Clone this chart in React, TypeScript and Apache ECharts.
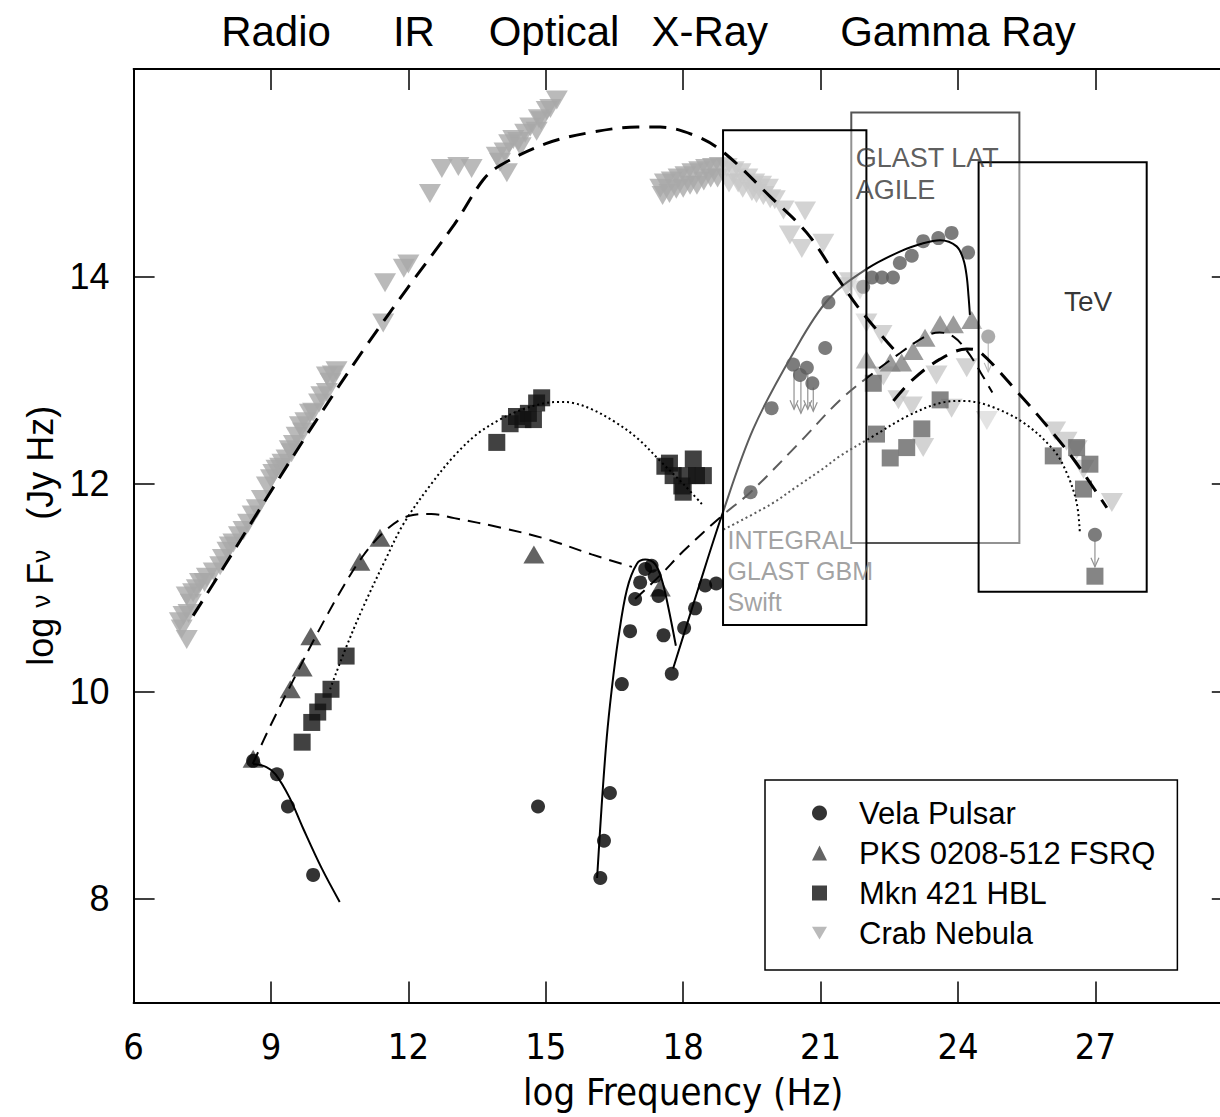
import { useEffect, useRef } from "react";
import * as echarts from "echarts";

const FONT = "'Liberation Sans', Arial, Helvetica, sans-serif";
const NARROW = "'Liberation Sans Narrow', 'DejaVu Sans Condensed', 'Liberation Sans', Arial, sans-serif";

// axes
const xRange = [6, 30];
const yRange = [7, 16];
const xTickValues = [6, 9, 12, 15, 18, 21, 24, 27];
const yTickValues = [8, 10, 12, 14];

// band labels along the top
const bandNames = ["Radio", "IR", "Optical", "X-Ray", "Gamma Ray"];
const bandCenters = [9.11, 12.12, 15.18, 18.58, 24.0];

const legendNames = ["Vela Pulsar", "PKS 0208-512 FSRQ", "Mkn 421 HBL", "Crab Nebula"];

// ---- data points [log nu, log nuFnu] ----
const velaPoints = [
  [8.61, 9.33], [9.13, 9.2], [9.37, 8.89], [9.92, 8.23], [14.83, 8.89],
  [16.19, 8.2], [16.27, 8.56], [16.4, 9.02], [16.66, 10.07], [16.84, 10.58], [16.95, 10.89],
  [17.06, 11.05], [17.17, 11.18], [17.31, 11.21], [17.38, 11.11], [17.46, 10.92], [17.57, 10.54],
  [17.75, 10.17], [18.02, 10.61], [18.26, 10.8], [18.48, 11.02], [18.72, 11.04],
  [19.47, 11.92], [19.93, 12.73], [20.4, 13.15], [20.55, 13.05], [20.7, 13.12], [20.82, 12.97],
  [21.1, 13.31], [21.17, 13.75], [21.93, 13.9], [22.12, 13.99], [22.34, 13.99], [22.58, 13.99],
  [22.73, 14.13], [22.99, 14.2], [23.24, 14.34], [23.57, 14.37], [23.86, 14.42], [24.22, 14.23],
  [24.66, 13.42], [26.99, 11.51],
];
// upper limits [log nu, from, to]
const velaUpperLimits = [
  [20.42, 13.1, 12.72], [20.57, 13.0, 12.68], [20.72, 13.07, 12.72], [20.84, 12.93, 12.7],
  [24.66, 13.36, 13.08], [26.99, 11.45, 11.2],
];

const pksPoints = [
  [8.61, 9.35], [9.42, 10.02], [9.68, 10.23], [9.87, 10.53], [10.94, 11.25], [11.38, 11.48],
  [14.74, 11.32], [17.5, 11.0],
  [22.0, 13.2], [22.52, 13.17], [22.77, 13.17], [23.02, 13.28], [23.28, 13.41], [23.61, 13.54],
  [23.9, 13.54], [24.3, 13.58],
];

const mknPoints = [
  [9.68, 9.51], [9.89, 9.7], [10.02, 9.8], [10.14, 9.9], [10.31, 10.02], [10.64, 10.34],
  [13.93, 12.4], [14.22, 12.58], [14.36, 12.65], [14.5, 12.62], [14.62, 12.68], [14.73, 12.62],
  [14.8, 12.78], [14.91, 12.83],
  [17.6, 12.17], [17.7, 12.2], [17.78, 12.08], [17.97, 11.98], [18.0, 11.92], [18.08, 12.08],
  [18.22, 12.24], [18.29, 12.08], [18.44, 12.08],
  [22.15, 12.97], [22.22, 12.48], [22.52, 12.25], [22.88, 12.35], [23.21, 12.53], [23.61, 12.81],
  [26.08, 12.27], [26.59, 12.35], [26.74, 11.95], [26.88, 12.19], [26.99, 11.11],
];

const crabRadioPoints = [
  [7.01, 10.67], [7.05, 10.6], [7.09, 10.73], [7.16, 10.5], [7.16, 10.92], [7.2, 10.75],
  [7.25, 10.85], [7.3, 10.95], [7.38, 10.99], [7.45, 11.05], [7.55, 11.05], [7.6, 11.1],
  [7.75, 11.15], [7.89, 11.21], [7.95, 11.28], [8.05, 11.35], [8.1, 11.4], [8.18, 11.43],
  [8.3, 11.5], [8.4, 11.55], [8.5, 11.62], [8.6, 11.7], [8.69, 11.76], [8.8, 11.85],
  [8.91, 11.98], [9.0, 12.05], [9.05, 12.1], [9.12, 12.14], [9.2, 12.16], [9.25, 12.2],
  [9.34, 12.24], [9.41, 12.33], [9.45, 12.3], [9.5, 12.38], [9.56, 12.46], [9.63, 12.56],
  [9.7, 12.5], [9.75, 12.6], [9.85, 12.68], [9.92, 12.69], [10.05, 12.78], [10.1, 12.85],
  [10.22, 12.88], [10.22, 13.04], [10.3, 12.98], [10.35, 13.05], [10.43, 13.09],
  [11.45, 13.55], [11.49, 13.94], [11.9, 14.08], [12.0, 14.12],
  [12.47, 14.8], [12.73, 15.04], [13.09, 15.06], [13.38, 15.04], [13.93, 15.16], [14.0, 15.1],
  [14.1, 15.2], [14.15, 15.0], [14.2, 15.28], [14.29, 15.32], [14.4, 15.3], [14.45, 15.25],
  [14.55, 15.38], [14.66, 15.44], [14.8, 15.4], [14.85, 15.52], [14.9, 15.5], [15.02, 15.6],
  [15.1, 15.62], [15.24, 15.7],
];

const crabXrayPoints = [
  [17.5, 14.85], [17.55, 14.78], [17.6, 14.9], [17.7, 14.8], [17.75, 14.92], [17.85, 14.84],
  [17.9, 14.95], [18.0, 14.85], [18.05, 14.97], [18.15, 14.88], [18.2, 15.0], [18.3, 14.88],
  [18.35, 15.02], [18.45, 14.92], [18.5, 15.04], [18.6, 14.95], [18.65, 15.05], [18.75, 14.95],
  [18.8, 15.06], [18.95, 15.05], [19.0, 14.9], [19.1, 15.02], [19.2, 14.9], [19.25, 15.0],
  [19.3, 14.85], [19.4, 14.95], [19.5, 14.82], [19.55, 14.9], [19.6, 14.8], [19.7, 14.88],
  [19.75, 14.78], [19.85, 14.85], [19.9, 14.75], [20.0, 14.74],
];

const crabGammaPoints = [
  [20.19, 14.64], [20.33, 14.4], [20.59, 14.27], [20.66, 14.63], [21.06, 14.32], [21.57, 13.9],
  [21.64, 13.95], [21.86, 13.87], [22.0, 13.55], [22.33, 13.44], [22.37, 13.04], [22.7, 12.81],
  [22.99, 12.75], [23.24, 12.35], [23.53, 13.05], [23.86, 12.73], [24.19, 13.12], [24.63, 12.61],
  [26.12, 12.51], [26.37, 12.41], [26.59, 12.33], [26.74, 12.14], [27.36, 11.82],
];

// ---- model curves ----
const velaRadioModel = [[8.61, 9.3], [8.9, 9.27], [9.1, 9.2], [9.4, 8.98], [9.7, 8.68], [10.1, 8.3], [10.5, 7.97]];
const velaXrayModel = [
  [16.12, 8.2], [16.22, 8.9], [16.33, 9.55], [16.44, 10.02], [16.58, 10.5], [16.77, 10.98],
  [16.99, 11.23], [17.17, 11.27], [17.38, 11.23], [17.53, 11.08], [17.67, 10.82], [17.84, 10.44],
];
const velaGammaModel = [
  [17.78, 10.22], [18.3, 10.95], [18.84, 11.69], [19.53, 12.53], [20.4, 13.26], [21.17, 13.78],
  [22.0, 14.07], [22.73, 14.24], [23.24, 14.32], [23.61, 14.35], [23.97, 14.29], [24.12, 14.16],
  [24.19, 14.0], [24.23, 13.81], [24.26, 13.63],
];
const pksSyncModel = [
  [8.6, 9.3], [9.0, 9.68], [9.5, 10.12], [10.0, 10.55], [10.5, 10.95], [11.0, 11.3], [11.5, 11.55],
  [12.0, 11.69], [12.5, 11.71], [13.0, 11.67], [14.0, 11.58], [15.0, 11.47], [16.0, 11.32], [16.88, 11.2],
];
const pksIcModel = [
  [16.95, 10.89], [17.5, 11.12], [18.0, 11.35], [18.84, 11.69], [19.47, 11.92], [20.5, 12.38],
  [21.43, 12.81], [22.15, 13.07], [22.73, 13.26], [23.32, 13.43], [23.6, 13.46], [23.9, 13.42],
  [24.2, 13.28], [24.5, 13.07], [24.75, 12.88],
];
const mknSyncModel = [
  [10.29, 10.02], [10.6, 10.38], [11.0, 10.8], [11.5, 11.27], [11.9, 11.62], [12.5, 12.0],
  [13.0, 12.27], [13.5, 12.48], [14.0, 12.62], [14.5, 12.72], [15.0, 12.78], [15.3, 12.79],
  [15.6, 12.78], [16.0, 12.72], [16.5, 12.6], [17.0, 12.44], [17.5, 12.22], [18.0, 12.0], [18.44, 11.79],
];
const mknIcModel = [
  [18.88, 11.56], [19.9, 11.8], [20.5, 11.98], [21.0, 12.13], [21.43, 12.27], [22.15, 12.46],
  [22.88, 12.65], [23.61, 12.78], [24.12, 12.8], [24.7, 12.75], [25.43, 12.59], [26.08, 12.33],
  [26.37, 12.11], [26.59, 11.82], [26.66, 11.53],
];
const crabSyncModel = [
  [7.3, 10.73], [8.0, 11.22], [9.0, 11.93], [10.0, 12.62], [11.0, 13.28], [12.0, 13.9], [13.0, 14.5],
  [13.63, 14.93], [14.0, 15.07], [15.0, 15.28], [16.0, 15.39], [17.0, 15.44], [17.5, 15.44],
  [18.3, 15.35], [18.9, 15.19], [19.9, 14.77], [20.7, 14.42], [21.35, 14.0], [21.86, 13.68], [22.59, 13.3],
];
const crabIcModel = [
  [22.59, 12.8], [23.0, 13.0], [23.6, 13.2], [24.19, 13.3], [24.48, 13.27], [25.35, 12.86],
  [25.94, 12.56], [26.52, 12.24], [27.25, 11.77],
];

// ---- instrument bands [x1, y1, x2, y2] ----
const integralBox = [18.87, 10.64, 22.0, 15.41];
const latBox = [21.67, 11.43, 25.34, 15.58];
const tevBox = [24.45, 10.96, 28.12, 15.1];
const integralLabelAt = [18.87, 11.16];
const latLabelAt = [21.67, 14.99];
const tevLabelAt = [26.84, 13.76];

function boxSeries(name: string, box: number[], z: number, stroke: string) {
  return {
    name,
    type: "custom",
    z,
    silent: true,
    data: [box],
    encode: { x: [0, 2], y: [1, 3] },
    renderItem: (_p: any, api: any) => {
      const a = api.coord([api.value(0), api.value(3)]);
      const b = api.coord([api.value(2), api.value(1)]);
      return {
        type: "rect",
        shape: { x: a[0], y: a[1], width: b[0] - a[0], height: b[1] - a[1] },
        style: { fill: "rgba(255,255,255,0.36)", stroke, lineWidth: 2 },
      };
    },
  };
}

function modelSeries(name: string, data: number[][], z: number, width: number, type: any, color = "#000") {
  return {
    name,
    type: "line",
    data,
    z,
    smooth: 0.35,
    showSymbol: false,
    symbol: "none",
    silent: true,
    lineStyle: { color, width, type },
  };
}

function labelSeries(name: string, at: number[], text: string, pos: string, style: any) {
  return {
    name,
    type: "scatter",
    z: 8,
    silent: true,
    symbolSize: 1,
    itemStyle: { color: "rgba(0,0,0,0)" },
    data: [at],
    label: { show: true, formatter: text, position: pos, distance: 4, fontFamily: FONT, ...style },
  };
}

export default function App() {
  const ref = useRef<HTMLDivElement>(null);
  useEffect(() => {
    if (!ref.current) return;
    const chart = echarts.init(ref.current, null, { renderer: "svg" });
    const axisLine = { show: true, onZero: false, lineStyle: { color: "#000", width: 2 } };
    const option: any = {
      animation: false,
      backgroundColor: "#fff",
      grid: { left: 133.6, right: -12.8, top: 69, bottom: 114.5, containLabel: false, outerBoundsMode: "none" },
      legend: {
        data: [
          { name: legendNames[0] },
          { name: legendNames[1] },
          { name: legendNames[2] },
          { name: legendNames[3], icon: "path://M0,0L20,0L10,17Z" },
        ],
        orient: "vertical",
        left: 765,
        top: 780,
        padding: [17, 22, 21, 47],
        itemWidth: 15,
        itemHeight: 15,
        itemGap: 8,
        borderColor: "#000",
        borderWidth: 1.5,
        selectedMode: false,
        textStyle: { fontSize: 31, fontFamily: FONT, color: "#000", lineHeight: 32, padding: [0, 0, 0, 27] },
      },
      xAxis: [
        {
          type: "value", min: xRange[0], max: xRange[1], interval: 3, position: "bottom",
          axisLine,
          axisTick: { show: true, inside: true, length: 21, customValues: xTickValues, lineStyle: { color: "#000", width: 1.5 } },
          axisLabel: { customValues: xTickValues, fontSize: 36, fontFamily: NARROW, color: "#000", margin: 26 },
          splitLine: { show: false },
          name: "log Frequency (Hz)", nameLocation: "middle", nameGap: 70,
          nameTextStyle: { fontSize: 38, fontFamily: NARROW, color: "#000" },
        },
        {
          type: "value", min: xRange[0], max: xRange[1], interval: 3, position: "top",
          axisLine,
          axisTick: { show: true, inside: true, length: 21, customValues: xTickValues, lineStyle: { color: "#000", width: 1.5 } },
          axisLabel: { show: false },
          splitLine: { show: false },
        },
      ],
      yAxis: [
        {
          type: "value", min: yRange[0], max: yRange[1], interval: 1, position: "left",
          axisLine,
          axisTick: { show: true, inside: true, length: 21, customValues: yTickValues, lineStyle: { color: "#000", width: 1.5 } },
          axisLabel: { customValues: yTickValues, fontSize: 36, fontFamily: FONT, color: "#000", margin: 24 },
          splitLine: { show: false },
          name: "log {n|ν} F{n|ν}   (Jy Hz)", nameLocation: "middle", nameGap: 68, nameRotate: 90,
          nameTextStyle: { fontSize: 36, fontFamily: FONT, color: "#000", rich: { n: { fontSize: 26, fontFamily: FONT, color: "#000" } } },
        },
        {
          type: "value", min: yRange[0], max: yRange[1], interval: 1, position: "right",
          axisLine,
          axisTick: { show: true, inside: true, length: 21, customValues: yTickValues, lineStyle: { color: "#000", width: 1.5 } },
          axisLabel: { show: false },
          splitLine: { show: false },
        },
      ],
      series: [
        {
          name: "Crab Nebula", type: "scatter", z: 2, silent: true,
          data: [...crabRadioPoints, ...crabXrayPoints, ...crabGammaPoints],
          symbol: "triangle", symbolRotate: 180, symbolSize: [22, 19],
          itemStyle: { color: "#a9a9a9" },
        },
        {
          name: "Mkn 421 HBL", type: "scatter", z: 2, silent: true, data: mknPoints,
          symbol: "rect", symbolSize: 17, itemStyle: { color: "#111" },
        },
        {
          name: "PKS 0208-512 FSRQ", type: "scatter", z: 2, silent: true, data: pksPoints,
          symbol: "triangle", symbolSize: [21, 18], itemStyle: { color: "#3c3c3c" },
        },
        {
          name: "Vela Pulsar", type: "scatter", z: 2, silent: true, data: velaPoints,
          symbol: "circle", symbolSize: 14, itemStyle: { color: "#000" },
        },
        {
          name: "Vela upper limits", type: "custom", z: 2, silent: true, data: velaUpperLimits,
          encode: { x: 0, y: [1, 2] },
          renderItem: (_p: any, api: any) => {
            const a = api.coord([api.value(0), api.value(1)]);
            const b = api.coord([api.value(1 - 1), api.value(2)]);
            const st = { stroke: "#555", lineWidth: 1.2, fill: "none" };
            return {
              type: "group",
              children: [
                { type: "line", shape: { x1: a[0], y1: a[1], x2: b[0], y2: b[1] }, style: st },
                { type: "polyline", shape: { points: [[b[0] - 4, b[1] - 9], [b[0], b[1]], [b[0] + 4, b[1] - 9]] }, style: st },
              ],
            };
          },
        },
        boxSeries("GLAST LAT box", latBox, 3, "#555"),
        boxSeries("TeV box", tevBox, 3, "#000"),
        modelSeries("Vela radio model", velaRadioModel, 4, 2, "solid"),
        modelSeries("Vela X-ray model", velaXrayModel, 4, 2, "solid"),
        modelSeries("Vela gamma model", velaGammaModel, 4, 2, "solid"),
        modelSeries("PKS sync model", pksSyncModel, 4, 2, [13, 8]),
        modelSeries("PKS IC model", pksIcModel, 4, 2, [13, 8]),
        modelSeries("Mkn sync model", mknSyncModel, 4, 2, [2, 3]),
        modelSeries("Mkn IC model", mknIcModel, 4, 2, [2, 3]),
        boxSeries("INTEGRAL box", integralBox, 5, "#000"),
        modelSeries("Crab sync model", crabSyncModel, 6, 3, [17, 10]),
        modelSeries("Crab IC model", crabIcModel, 6, 3, [17, 10]),
        labelSeries("INTEGRAL label", integralLabelAt, "INTEGRAL\nGLAST GBM\nSwift", "right", { fontSize: 25, lineHeight: 31, color: "#8a8a8a" }),
        labelSeries("LAT label", latLabelAt, "GLAST LAT\nAGILE", "right", { fontSize: 27, lineHeight: 32, color: "#333" }),
        labelSeries("TeV label", tevLabelAt, "TeV", "inside", { fontSize: 28, color: "#000" }),
      ],
    };
    chart.setOption(option);
    const topPx = chart.convertToPixel({ yAxisIndex: 0 }, yRange[1]) as number;
    chart.setOption({
      graphic: bandNames.map((n, i) => ({
        type: "text",
        x: chart.convertToPixel({ xAxisIndex: 0 }, bandCenters[i]) as number,
        y: topPx - 38,
        silent: true,
        style: { text: n, fontSize: 42, fontFamily: FONT, fill: "#000", align: "center", verticalAlign: "middle" },
      })),
    });
    return () => chart.dispose();
  }, []);
  return (
    <div
      ref={ref}
      style={{ position: "absolute", left: 0, top: 0, width: 1220, height: 1117, background: "#fff" }}
    />
  );
}
